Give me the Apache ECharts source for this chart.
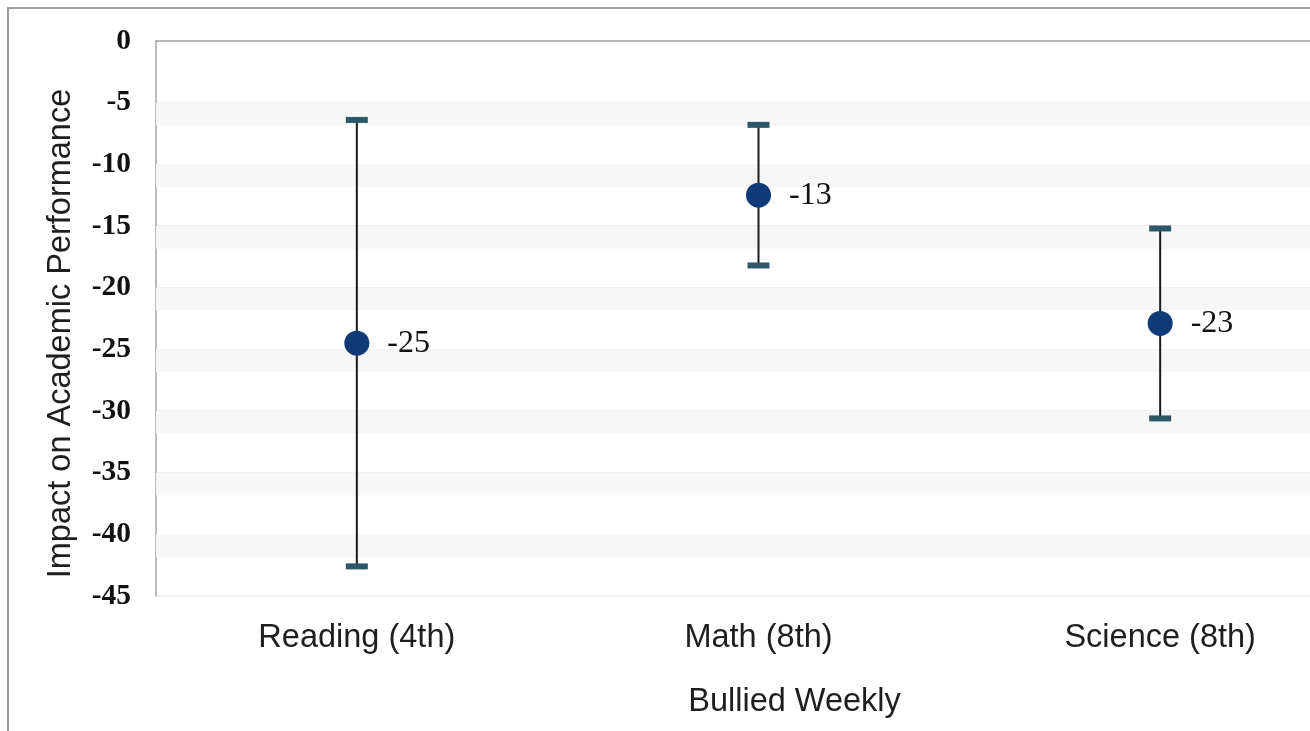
<!DOCTYPE html>
<html>
<head>
<meta charset="utf-8">
<script src="https://cdn.jsdelivr.net/npm/echarts@6/dist/echarts.min.js"></script>
<style>
  html, body { margin: 0; padding: 0; background: #ffffff; overflow: hidden; }
  #chart { width: 1361px; height: 731px; }
</style>
</head>
<body>
<div id="chart"></div>
<script>
// Categories along the x axis
const categories = ['Reading (4th)', 'Math (8th)', 'Science (8th)'];
// Point estimates of the impact
const estimates = [-24.5, -12.5, -22.9];
// Confidence interval bounds (upper, lower)
const upperBounds = [-6.4, -6.8, -15.2];
const lowerBounds = [-42.6, -18.2, -30.6];
// Y axis range and step
const yMin = -45, yMax = 0, yStep = 5;

// Shaded strips that sit just under each grid line
const stripTicks = [];
for (let v = yMax - yStep; v >= yMin; v -= yStep) stripTicks.push(v);
const stripDepth = 1.85;

const chart = echarts.init(document.getElementById('chart'), null, { renderer: 'canvas' });

const errorData = categories.map((c, i) => [i, lowerBounds[i], upperBounds[i]]);

const option = {
  backgroundColor: '#ffffff',
  animation: false,
  graphic: [{
    type: 'rect',
    z: -10,
    shape: { x: 8, y: 8, width: 1500, height: 800 },
    style: { fill: 'none', stroke: '#a0a0a0', lineWidth: 2 }
  }],
  grid: { left: 156, top: 41, right: 0, bottom: 135 },
  xAxis: [{
    type: 'category',
    data: categories,
    axisLine: { show: false },
    axisTick: { show: false },
    axisLabel: {
      margin: 26,
      fontFamily: 'Liberation Sans',
      fontSize: 32.5,
      color: '#1e1e1e'
    },
    name: 'Bullied Weekly',
    nameLocation: 'middle',
    nameGap: 90,
    nameTextStyle: {
      fontFamily: 'Liberation Sans',
      fontSize: 32.5,
      color: '#1e1e1e',
      padding: [0, 0, 0, 72]
    },
    splitLine: { show: false }
  }, {
    type: 'category',
    data: categories,
    position: 'top',
    axisLine: { show: true, lineStyle: { color: '#a5a5a5', width: 1.5 } },
    axisTick: { show: false },
    axisLabel: { show: false }
  }],
  yAxis: {
    type: 'value',
    min: yMin,
    max: yMax,
    interval: yStep,
    axisLine: { show: true, lineStyle: { color: '#a5a5a5', width: 1.5 } },
    axisTick: { show: false },
    axisLabel: {
      margin: 25,
      fontFamily: 'Liberation Serif',
      fontWeight: 'bold',
      fontSize: 29.5,
      color: '#111'
    },
    splitLine: { show: true, lineStyle: { color: '#ebebeb', width: 1.5 } },
    name: 'Impact on Academic Performance',
    nameLocation: 'middle',
    nameGap: 78,
    nameTextStyle: {
      fontFamily: 'Liberation Sans',
      fontSize: 32.5,
      color: '#1e1e1e',
      padding: [0, 30, 0, 0]
    }
  },
  series: [
    {
      // shaded strips below each horizontal grid line
      type: 'line',
      data: [],
      silent: true,
      clip: false,
      markArea: {
        silent: true,
        itemStyle: { color: '#f7f7f7' },
        data: stripTicks.map(v => [{ yAxis: v }, { yAxis: v - stripDepth }])
      }
    },
    {
      // confidence interval whiskers with caps
      type: 'custom',
      z: 3,
      data: errorData,
      renderItem: function (params, api) {
        const x = api.value(0);
        const lo = api.coord([x, api.value(1)]);
        const hi = api.coord([x, api.value(2)]);
        const capW = 22, capH = 6;
        return {
          type: 'group',
          children: [
            {
              type: 'line',
              shape: { x1: lo[0], y1: lo[1], x2: hi[0], y2: hi[1] },
              style: { stroke: '#1a1a1a', lineWidth: 2 }
            },
            {
              type: 'rect',
              shape: { x: hi[0] - capW / 2, y: hi[1] - capH / 2, width: capW, height: capH },
              style: { fill: '#2d5769' }
            },
            {
              type: 'rect',
              shape: { x: lo[0] - capW / 2, y: lo[1] - capH / 2, width: capW, height: capH },
              style: { fill: '#2d5769' }
            }
          ]
        };
      }
    },
    {
      // point estimates with their value labels
      type: 'scatter',
      z: 5,
      data: estimates,
      symbol: 'circle',
      symbolSize: 25,
      itemStyle: { color: '#0f3a78', opacity: 1 },
      label: {
        show: true,
        position: 'right',
        distance: 18,
        fontFamily: 'Liberation Serif',
        fontSize: 32,
        color: '#111',
        opacity: 1,
        formatter: p => Number(p.value).toFixed(0)
      }
    }
  ]
};

chart.setOption(option);
</script>
</body>
</html>
